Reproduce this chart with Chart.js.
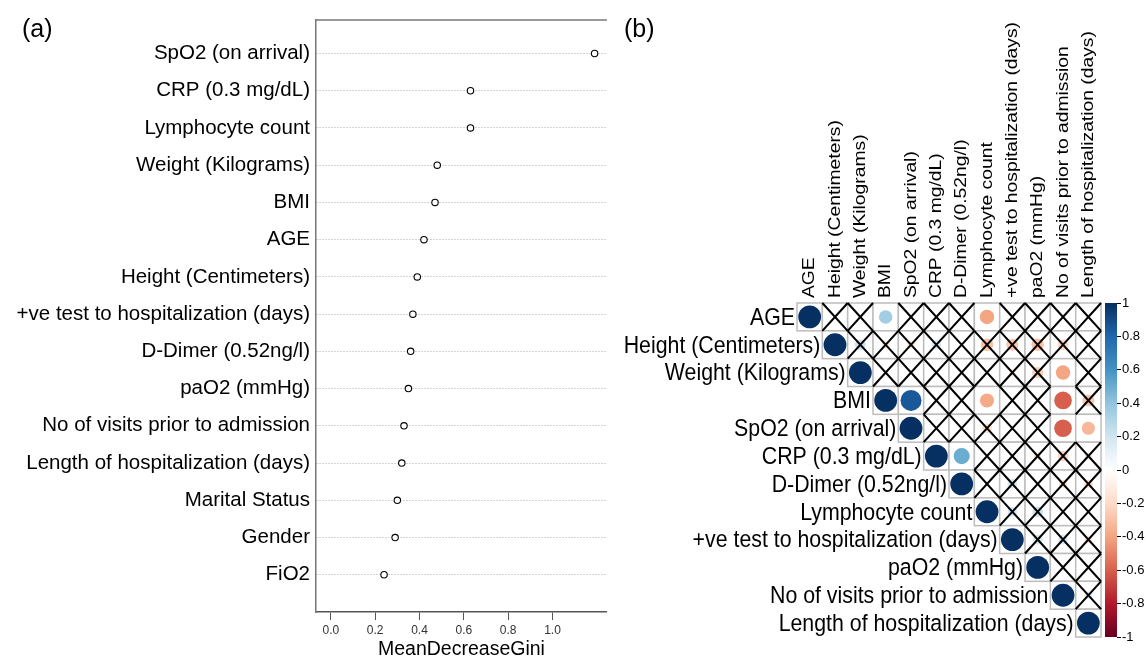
<!DOCTYPE html>
<html>
<head>
<meta charset="utf-8">
<script src="https://cdn.jsdelivr.net/npm/chart.js@4.4.1/dist/chart.umd.min.js"></script>
<style>
  body { margin: 0; background: #fff; font-family: "Liberation Sans", Arial, sans-serif; }
  #page { position: relative; width: 1147px; height: 667px; overflow: hidden; background: #fff; }
  canvas { position: absolute; top: 0; }
  #giniChart { left: 0; }
  #corrChart { left: 612px; }
  .panel-tag { position: absolute; top: 16px; font-size: 25px; line-height: 1; color: #000; }
</style>
</head>
<body>
<div id="page">
  <canvas id="giniChart" width="612" height="667"></canvas>
  <canvas id="corrChart" width="535" height="667"></canvas>
  <div class="panel-tag" style="left:22px">(a)</div>
  <div class="panel-tag" style="left:624px">(b)</div>
</div>
<script>
// panel (a) - variable importance
const giniLabels = [
    'SpO2 (on arrival)', 'CRP (0.3 mg/dL)', 'Lymphocyte count', 'Weight (Kilograms)', 'BMI', 'AGE',
    'Height (Centimeters)', '+ve test to hospitalization (days)', 'D-Dimer (0.52ng/l)', 'paO2 (mmHg)',
    'No of visits prior to admission', 'Length of hospitalization (days)', 'Marital Status', 'Gender', 'FiO2'
];
const giniValues = [1.19, 0.63, 0.63, 0.48, 0.47, 0.42, 0.39, 0.37, 0.36, 0.35, 0.33, 0.32, 0.30, 0.29, 0.24];
const giniTicks = [0, 0.2, 0.4, 0.6, 0.8, 1.0];

// panel (b) - correlation matrix
const corrVars = [
    'AGE', 'Height (Centimeters)', 'Weight (Kilograms)', 'BMI', 'SpO2 (on arrival)', 'CRP (0.3 mg/dL)',
    'D-Dimer (0.52ng/l)', 'Lymphocyte count', '+ve test to hospitalization (days)', 'paO2 (mmHg)',
    'No of visits prior to admission', 'Length of hospitalization (days)'
];
// upper triangle, each row starts at the diagonal
const corrUpper = [
    [1, 0.03, 0.04, 0.35, 0.02, -0.03, 0.03, -0.4, 0.03, -0.04, 0.02, 0.03],
    [1, 0.22, -0.12, -0.12, 0.18, 0.03, -0.3, -0.28, -0.3, -0.22, 0.03],
    [1, 0.03, 0.02, -0.02, 0.03, 0.04, -0.1, -0.25, -0.4, 0.02],
    [1, 0.85, 0.03, 0.02, -0.38, 0.03, 0.02, -0.6, -0.28],
    [1, 0.02, 0.03, -0.18, 0.02, -0.03, -0.6, -0.33],
    [1, 0.5, 0.02, -0.03, -0.12, -0.22, -0.12],
    [1, 0.03, 0.18, 0.02, -0.15, -0.15],
    [1, 0.18, 0.22, 0.03, 0.02],
    [1, 0.18, 0.18, -0.12],
    [1, 0.03, 0.02],
    [1, 0.12],
    [1]
];
// column indices (0-based, full matrix) crossed out as not significant
const notSignificant = [
    [1, 2, 4, 5, 6, 8, 9, 10, 11],
    [2, 3, 4, 5, 6, 7, 8, 9, 10, 11],
    [3, 4, 5, 6, 7, 8, 9, 11],
    [5, 6, 8, 9, 11],
    [5, 6, 7, 8, 9],
    [7, 8, 9, 10, 11],
    [7, 8, 9, 10, 11],
    [8, 9, 10, 11],
    [9, 10, 11],
    [10, 11],
    [11],
    []
];
const colorbarTicks = [-1, -0.8, -0.6, -0.4, -0.2, 0, 0.2, 0.4, 0.6, 0.8, 1];
const rdbu = ['#67001F', '#B2182B', '#D6604D', '#F4A582', '#FDDBC7', '#FFFFFF',
              '#D1E5F0', '#92C5DE', '#4393C3', '#2166AC', '#053061'];

function hexRgb(h) {
    return [parseInt(h.substr(1, 2), 16), parseInt(h.substr(3, 2), 16), parseInt(h.substr(5, 2), 16)];
}

function corrColor(v) {
    const t = (v + 1) / 2 * (rdbu.length - 1);
    const i = Math.min(Math.floor(t), rdbu.length - 2);
    const f = t - i;
    const a = hexRgb(rdbu[i]), b = hexRgb(rdbu[i + 1]);
    const c = a.map((x, k) => Math.round(x + (b[k] - x) * f));
    return `rgb(${c[0]},${c[1]},${c[2]})`;
}

const FONT = '"Liberation Sans", Arial, sans-serif';

// ---------- panel (a) ----------
const giniPoints = giniValues.map((v, i) => ({ x: v, y: giniLabels.length - i }));

const boxTopLine = {
    id: 'boxTopLine',
    afterDraw(chart) {
        const a = chart.chartArea;
        const ctx = chart.ctx;
        ctx.save();
        ctx.strokeStyle = '#777';
        ctx.lineWidth = 1.5;
        ctx.beginPath();
        ctx.moveTo(a.left, a.top);
        ctx.lineTo(a.right, a.top);
        ctx.stroke();
        ctx.restore();
    }
};

new Chart(document.getElementById('giniChart').getContext('2d'), {
    type: 'scatter',
    data: {
        datasets: [{
            data: giniPoints,
            pointRadius: 3.2,
            pointBorderWidth: 1.1,
            pointBorderColor: '#000',
            pointBackgroundColor: '#fff'
        }]
    },
    options: {
        responsive: false,
        animation: false,
        events: [],
        layout: { padding: { left: 0, top: 20, right: 2, bottom: 0 } },
        plugins: { legend: { display: false }, tooltip: { enabled: false } },
        scales: {
            x: {
                type: 'linear',
                min: -0.067,
                max: 1.2455,
                afterBuildTicks: s => { s.ticks = giniTicks.map(v => ({ value: v })); },
                afterFit: s => { s.height = 55; },
                ticks: {
                    callback: v => v.toFixed(1),
                    font: { family: FONT, size: 12 },
                    color: '#333',
                    padding: 3
                },
                grid: { drawOnChartArea: false, tickLength: 8, color: '#555' },
                border: { display: true, color: '#555', width: 1.5 },
                title: {
                    display: true,
                    text: 'MeanDecreaseGini',
                    font: { family: FONT, size: 19.5 },
                    color: '#000',
                    padding: { top: 0, bottom: 6 }
                }
            },
            y: {
                type: 'linear',
                min: 0,
                max: 15.9,
                afterBuildTicks: s => { s.ticks = giniLabels.map((_, i) => ({ value: i + 1 })); },
                afterFit: s => { s.width = 316; },
                ticks: {
                    autoSkip: false,
                    callback: v => giniLabels[giniLabels.length - v],
                    font: { family: FONT, size: 20.5 },
                    color: '#000',
                    padding: 6
                },
                grid: { drawTicks: false, color: '#a8a8a8', lineWidth: 1 },
                border: { display: true, color: '#777', width: 1.5, dash: [1, 2] }
            }
        }
    },
    plugins: [boxTopLine]
});

// ---------- panel (b) ----------
const corrPoints = [];
corrUpper.forEach((row, i) => {
    row.forEach((v, k) => {
        corrPoints.push({ x: i + k + 1, y: i + 1, v: v });
    });
});

const corrDecor = {
    id: 'corrDecor',
    beforeDatasetsDraw(chart) {
        const ctx = chart.ctx;
        const xs = chart.scales.x, ys = chart.scales.y;
        ctx.save();
        ctx.strokeStyle = '#bdbdbd';
        ctx.lineWidth = 1.5;
        corrUpper.forEach((row, i) => {
            row.forEach((v, k) => {
                const j = i + k;
                const x0 = xs.getPixelForValue(j + 0.5), x1 = xs.getPixelForValue(j + 1.5);
                const y0 = ys.getPixelForValue(i + 0.5), y1 = ys.getPixelForValue(i + 1.5);
                ctx.fillStyle = '#fff';
                ctx.fillRect(x0, y0, x1 - x0, y1 - y0);
                ctx.strokeRect(x0, y0, x1 - x0, y1 - y0);
            });
        });
        // colour bar
        const cb = chart.scales.cb;
        const top = cb.getPixelForValue(1), bottom = cb.getPixelForValue(-1);
        const grad = ctx.createLinearGradient(0, bottom, 0, top);
        rdbu.forEach((c, k) => grad.addColorStop(k / (rdbu.length - 1), c));
        ctx.fillStyle = grad;
        ctx.fillRect(chart.chartArea.right - 12, top, 12, bottom - top);
        ctx.restore();
    },
    afterDatasetsDraw(chart) {
        const ctx = chart.ctx;
        const xs = chart.scales.x, ys = chart.scales.y;
        ctx.save();
        ctx.strokeStyle = '#000';
        ctx.lineWidth = 2.1;
        notSignificant.forEach((cols, i) => {
            cols.forEach(j => {
                const x0 = xs.getPixelForValue(j + 0.5), x1 = xs.getPixelForValue(j + 1.5);
                const y0 = ys.getPixelForValue(i + 0.5), y1 = ys.getPixelForValue(i + 1.5);
                ctx.beginPath();
                ctx.moveTo(x0, y0); ctx.lineTo(x1, y1);
                ctx.moveTo(x1, y0); ctx.lineTo(x0, y1);
                ctx.stroke();
            });
        });
        ctx.restore();
    },
    afterDraw(chart) {
        const ctx = chart.ctx;
        const xs = chart.scales.x, ys = chart.scales.y;
        ctx.save();
        ctx.fillStyle = '#000';
        // row labels
        ctx.font = `24.5px ${FONT}`;
        ctx.textAlign = 'right';
        ctx.textBaseline = 'middle';
        corrVars.forEach((name, i) => {
            ctx.save();
            ctx.translate(xs.getPixelForValue(i + 0.5) - 2, ys.getPixelForValue(i + 1) + 1);
            ctx.scale(0.87, 1);
            ctx.fillText(name, 0, 0);
            ctx.restore();
        });
        // column labels
        ctx.font = `19.3px ${FONT}`;
        ctx.textAlign = 'left';
        const top = chart.chartArea.top;
        corrVars.forEach((name, j) => {
            ctx.save();
            ctx.translate(xs.getPixelForValue(j + 1), top - 5);
            ctx.rotate(-Math.PI / 2);
            ctx.scale(1, 0.87);
            ctx.fillText(name, 0, 0);
            ctx.restore();
        });
        ctx.restore();
    }
};

new Chart(document.getElementById('corrChart').getContext('2d'), {
    type: 'scatter',
    data: {
        datasets: [{
            data: corrPoints,
            pointRadius: ctx => {
                if (!ctx.raw) return 0;
                const xs = ctx.chart.scales.x;
                const cell = xs.getPixelForValue(1) - xs.getPixelForValue(0);
                return 0.45 * cell * Math.sqrt(Math.abs(ctx.raw.v));
            },
            pointBackgroundColor: ctx => ctx.raw ? corrColor(ctx.raw.v) : '#fff',
            pointBorderWidth: 0,
            pointBorderColor: 'rgba(0,0,0,0)'
        }]
    },
    options: {
        responsive: false,
        animation: false,
        events: [],
        layout: { padding: { left: 185, top: 303, right: 0, bottom: 30 } },
        plugins: { legend: { display: false }, tooltip: { enabled: false } },
        scales: {
            x: { type: 'linear', display: false, min: 0.5, max: 13.13 },
            y: { type: 'linear', display: false, reverse: true, min: 0.5, max: 12.5 },
            cb: {
                type: 'linear',
                position: 'right',
                min: -1,
                max: 1,
                afterBuildTicks: s => { s.ticks = colorbarTicks.map(v => ({ value: v })); },
                afterFit: s => { s.width = 30; },
                ticks: {
                    callback: v => String(Math.round(v * 10) / 10),
                    font: { family: FONT, size: 13 },
                    color: '#000',
                    padding: 1
                },
                grid: { drawOnChartArea: false, tickLength: 4, color: '#000', lineWidth: 1 },
                border: { display: false }
            }
        }
    },
    plugins: [corrDecor]
});
</script>
</body>
</html>
